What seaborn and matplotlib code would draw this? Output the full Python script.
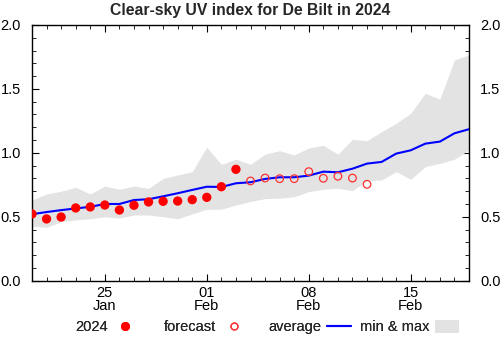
import numpy as np
import pandas as pd
import matplotlib
matplotlib.use("Agg")
import matplotlib.pyplot as plt
import matplotlib.dates as mdates
from matplotlib.lines import Line2D
from matplotlib.patches import Patch
import seaborn as sns

# ---- data ----
obs_dates = pd.date_range("2024-01-20", "2024-02-03", freq="D")
obs_vals = [0.522, 0.483, 0.498, 0.569, 0.577, 0.592, 0.553, 0.590, 0.616,
            0.621, 0.623, 0.634, 0.652, 0.735, 0.871]

fc_dates = pd.date_range("2024-02-04", "2024-02-12", freq="D")
fc_vals = [0.780, 0.803, 0.798, 0.798, 0.853, 0.801, 0.817, 0.803, 0.754]

clim_dates = pd.date_range("2024-01-20", "2024-02-19", freq="D")
avg_vals = [0.52, 0.537, 0.552, 0.565, 0.578, 0.600, 0.600, 0.631, 0.637, 0.660,
            0.684, 0.710, 0.735, 0.733, 0.762, 0.770, 0.796, 0.809, 0.809, 0.822,
            0.853, 0.848, 0.876, 0.916, 0.929, 0.994, 1.020, 1.072, 1.088, 1.153,
            1.185]
max_vals = [0.631, 0.678, 0.700, 0.730, 0.678, 0.740, 0.715, 0.740, 0.722, 0.800,
            0.827, 0.853, 1.044, 0.910, 0.950, 0.910, 0.990, 1.017, 0.983, 1.038,
            1.059, 0.989, 1.106, 1.095, 1.166, 1.230, 1.310, 1.466, 1.420, 1.727,
            1.766]
min_vals = [0.428, 0.418, 0.462, 0.475, 0.485, 0.500, 0.490, 0.514, 0.514, 0.500,
            0.485, 0.522, 0.559, 0.559, 0.592, 0.620, 0.642, 0.645, 0.657, 0.697,
            0.715, 0.723, 0.704, 0.782, 0.788, 0.853, 0.793, 0.892, 0.918, 0.950,
            1.023]

major_dates = pd.to_datetime(["2024-01-25", "2024-02-01", "2024-02-08", "2024-02-15"])
y_major = [0.0, 0.5, 1.0, 1.5, 2.0]

title = "Clear-sky UV index for De Bilt in 2024"
legend_labels = ["2024", "forecast", "average", "min & max"]

# ---- style ----
sns.set_theme(style="white")
plt.rcParams["font.family"] = ["Liberation Sans", "DejaVu Sans"]

fig = plt.figure(figsize=(5.01, 3.37), dpi=100)
ax = fig.add_axes([32 / 501, 56.3 / 337, (469 - 32) / 501, (280.7 - 25) / 337])

band_color = "#e3e3e3"
ax.fill_between(clim_dates, min_vals, max_vals, color=band_color, lw=0, zorder=1)

clim_df = pd.DataFrame({"date": clim_dates, "avg": avg_vals})
sns.lineplot(data=clim_df, x="date", y="avg", ax=ax, color="#0000ff", lw=1.5, zorder=3)

obs_df = pd.DataFrame({"date": obs_dates, "val": obs_vals})
sns.scatterplot(data=obs_df, x="date", y="val", ax=ax, color="#ff0000", s=45,
                edgecolor="none", zorder=4)

fc_df = pd.DataFrame({"date": fc_dates, "val": fc_vals})
sns.scatterplot(data=fc_df, x="date", y="val", ax=ax, facecolor="none",
                edgecolor="#ff3030", s=30, linewidth=0.9, zorder=4, marker="o")

ax.set_xlim(pd.Timestamp("2024-01-20"), pd.Timestamp("2024-02-19"))
ax.set_ylim(0, 2.0)
ax.set_xlabel("")
ax.set_ylabel("")

ax.set_xticks(major_dates)
ax.xaxis.set_major_formatter(mdates.DateFormatter("%d\n%b"))
ax.xaxis.set_minor_locator(mdates.DayLocator())
ax.set_yticks(y_major)
ax.set_yticklabels([f"{v:.1f}" for v in y_major])
ax.yaxis.set_minor_locator(matplotlib.ticker.MultipleLocator(0.1))

for s in ax.spines.values():
    s.set_color("black")
    s.set_linewidth(1.0)

ax.tick_params(axis="both", which="both", direction="in", top=True, right=True,
               left=True, bottom=True, labelright=True, colors="black",
               labelsize=10.5)
ax.tick_params(which="major", length=5, width=0.8)
ax.tick_params(which="minor", length=3, width=0.6)
ax.tick_params(axis="x", pad=4)
ax.tick_params(axis="y", pad=8)

fig.text(0.5, 1 - 10 / 337, title, ha="center", va="center", fontsize=11.3,
         fontweight="bold")

handles = [
    Line2D([], [], ls="none", marker="o", color="#ff0000", markersize=6.5,
           markeredgewidth=0),
    Line2D([], [], ls="none", marker="o", markerfacecolor="none",
           markeredgecolor="#ff3030", markersize=5, markeredgewidth=0.9),
    Line2D([], [], color="#0000ff", lw=1.5),
    Patch(facecolor=band_color, edgecolor="none"),
]
text_starts = [75, 164, 268, 360]
for h, lab, x0 in zip(handles, legend_labels, text_starts):
    leg = fig.legend([h], [lab], loc="center left",
                     bbox_to_anchor=(x0 / 501, 1 - 327 / 337),
                     frameon=False, markerfirst=False, fontsize=10.5,
                     handlelength=1.65, handletextpad=0.4, handleheight=1.0,
                     borderpad=0, borderaxespad=0)
    fig.add_artist(leg)

fig.canvas.draw()
for lab in ax.get_xticklabels():
    lab.set_linespacing(0.9)

fig.savefig("out.png", dpi=100)
